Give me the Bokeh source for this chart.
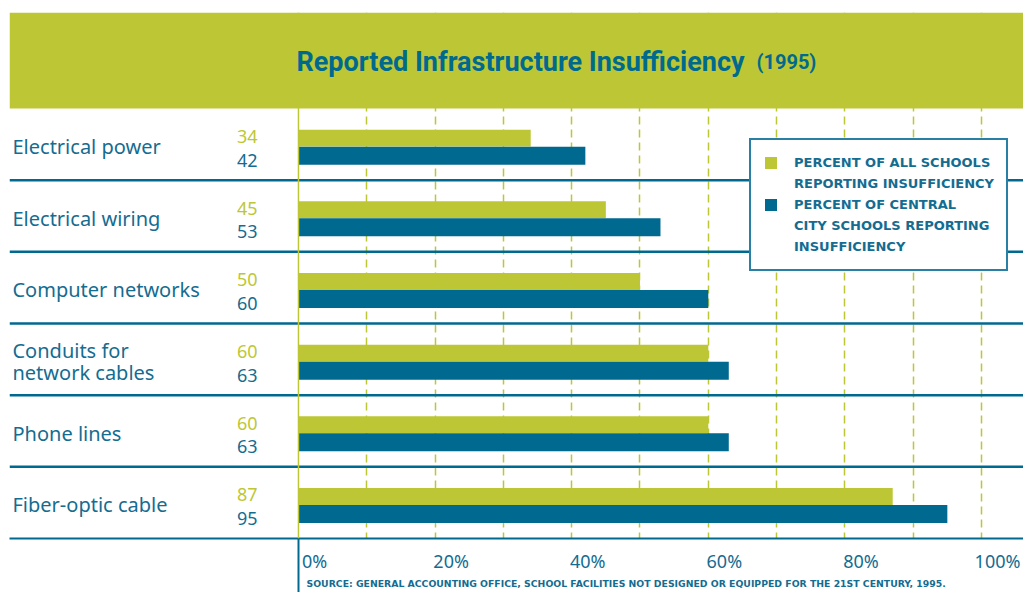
import numpy as np
from bokeh.plotting import figure
from bokeh.models import (Range1d, FixedTicker, BoxAnnotation, Span, Label,
                          Legend, LegendItem, Title, LinearAxis)
from bokeh.core.properties import value
from bokeh.embed import file_html
from bokeh.resources import INLINE

# ---------------- data ----------------
categories = ["Electrical power", "Electrical wiring", "Computer networks",
              "Conduits for\nnetwork cables", "Phone lines", "Fiber-optic cable"]
all_schools = [34, 45, 50, 60, 60, 87]
central_city = [42, 53, 60, 63, 63, 95]
tick_values = [0, 20, 40, 60, 80, 100]
tick_labels = ["0%", "20%", "40%", "60%", "80%", "100%"]
grid_values = [10, 20, 30, 40, 50, 60, 70, 80, 90, 100]
legend_lines = ["PERCENT OF ALL SCHOOLS", "REPORTING INSUFFICIENCY",
                "PERCENT OF CENTRAL", "CITY SCHOOLS REPORTING", "INSUFFICIENCY"]
title_main = "Reported Infrastructure Insufficiency"
title_year = "(1995)"
source_note = ("SOURCE: GENERAL ACCOUNTING OFFICE, SCHOOL FACILITIES NOT DESIGNED "
               "OR EQUIPPED FOR THE 21ST CENTURY, 1995.")

# ---------------- style ----------------
GREEN = "#bdc735"
BLUE = "#00698f"
TEXT_BLUE = "#146c91"
TITLE_BLUE = "#006a8e"
LABEL_FONT = "Noto Sans"

n = len(categories)
y_mid = np.arange(n) + 0.5
header_rows = 1.3395          # header band height, in row units
x_lo, x_hi = -42.31, 106.15
label_shift = 2.35            # tick labels sit to the right of their gridline

p = figure(width=1023, height=592,
           x_range=Range1d(x_lo, x_hi),
           y_range=Range1d(float(n), -header_rows),
           x_axis_location=None, y_axis_location=None,
           output_backend="svg", toolbar_location=None,
           min_border_left=9, min_border_right=0,
           min_border_top=12, min_border_bottom=54)
p.outline_line_color = None
p.background_fill_color = "white"
p.border_fill_color = "white"
p.extra_x_ranges = {"labels": Range1d(x_lo - label_shift, x_hi - label_shift)}

# grid
p.ygrid.visible = False
p.xgrid.ticker = FixedTicker(ticks=grid_values)
p.xgrid.grid_line_color = GREEN
p.xgrid.grid_line_width = 1.5
p.xgrid.grid_line_dash = "8 5"

# x axis (labels); its minor tick draws the blue stem under the zero line
xa = LinearAxis(x_range_name="labels")
xa.ticker = FixedTicker(ticks=tick_values, minor_ticks=[-label_shift])
xa.major_label_overrides = {v: l for v, l in zip(tick_values, tick_labels)}
xa.major_tick_in = 0
xa.major_tick_out = 0
xa.major_tick_line_color = None
xa.minor_tick_in = 0
xa.minor_tick_out = 54
xa.minor_tick_line_color = BLUE
xa.minor_tick_line_width = 2
xa.axis_line_color = BLUE
xa.axis_line_width = 2
xa.major_label_text_font = LABEL_FONT
xa.major_label_text_font_size = "18px"
xa.major_label_text_color = TEXT_BLUE
xa.major_label_standoff = -44
p.add_layout(xa, "below")

src = Title(text=source_note, align="left", offset=297,
            text_font="DejaVu Sans", text_font_size="9.3px",
            text_font_style="bold", text_color=TEXT_BLUE, standoff=0)
p.add_layout(src, "below")

# bars
g_off, g_h = -0.0865, 0.237
b_off, b_h = 0.158, 0.251
r_g = p.hbar(y=y_mid + g_off, left=0, right=all_schools, height=g_h,
             fill_color=GREEN, line_color=None)
r_b = p.hbar(y=y_mid + b_off, left=0, right=central_city, height=b_h,
             fill_color=BLUE, line_color=None)

# row separators
for k in range(1, n):
    p.add_layout(Span(location=k, dimension="width", line_color=BLUE,
                      line_width=2.5))
# zero line
p.add_layout(Span(location=0, dimension="height", line_color=GREEN,
                  line_width=1.5))

# category labels and values
zeros = np.zeros(n)
p.text(x=zeros, y=y_mid + 0.03, text=categories, x_offset=-286,
       text_align="left", text_baseline="middle",
       text_font=value(LABEL_FONT), text_font_size="20px",
       text_color=TEXT_BLUE, text_line_height=0.85)
p.text(x=zeros, y=y_mid - 0.11, text=[str(v) for v in all_schools],
       x_offset=-41, text_align="right", text_baseline="middle",
       text_font=value(LABEL_FONT), text_font_size="18px", text_color=GREEN)
p.text(x=zeros, y=y_mid + 0.22, text=[str(v) for v in central_city],
       x_offset=-41, text_align="right", text_baseline="middle",
       text_font=value(LABEL_FONT), text_font_size="18px", text_color=TEXT_BLUE)

# header band
p.add_layout(BoxAnnotation(top=-header_rows, bottom=0, left=x_lo, right=x_hi,
                           fill_color=GREEN, fill_alpha=1.0, line_color=None))
title_y = -0.655
p.add_layout(Label(x=0, y=title_y, x_offset=-2, text=title_main,
                   text_font="Roboto", text_font_style="bold",
                   text_font_size="27px", text_color=TITLE_BLUE,
                   text_baseline="alphabetic"))
p.add_layout(Label(x=0, y=title_y, x_offset=458, text=title_year,
                   text_font="Roboto", text_font_style="bold",
                   text_font_size="20px", text_color=TITLE_BLUE,
                   text_baseline="alphabetic"))

# legend (one item per printed line; the swatch sits on each series' first line)
swatch_for = {0: [r_g], 2: [r_b]}
items = [LegendItem(label=t, renderers=swatch_for.get(i, []))
         for i, t in enumerate(legend_lines)]
legend = Legend(items=items, location=(740, 267), margin=0, padding=12,
                spacing=0, glyph_width=15, glyph_height=15, label_height=21,
                label_standoff=16,
                label_text_font="DejaVu Sans", label_text_font_size="13px",
                label_text_font_style="bold", label_text_color=TEXT_BLUE,
                border_line_color="#2a80a4", border_line_width=2,
                border_line_alpha=1.0,
                background_fill_color="white", background_fill_alpha=1.0)
p.add_layout(legend)

open("out.html", "w").write(file_html(p, INLINE))
